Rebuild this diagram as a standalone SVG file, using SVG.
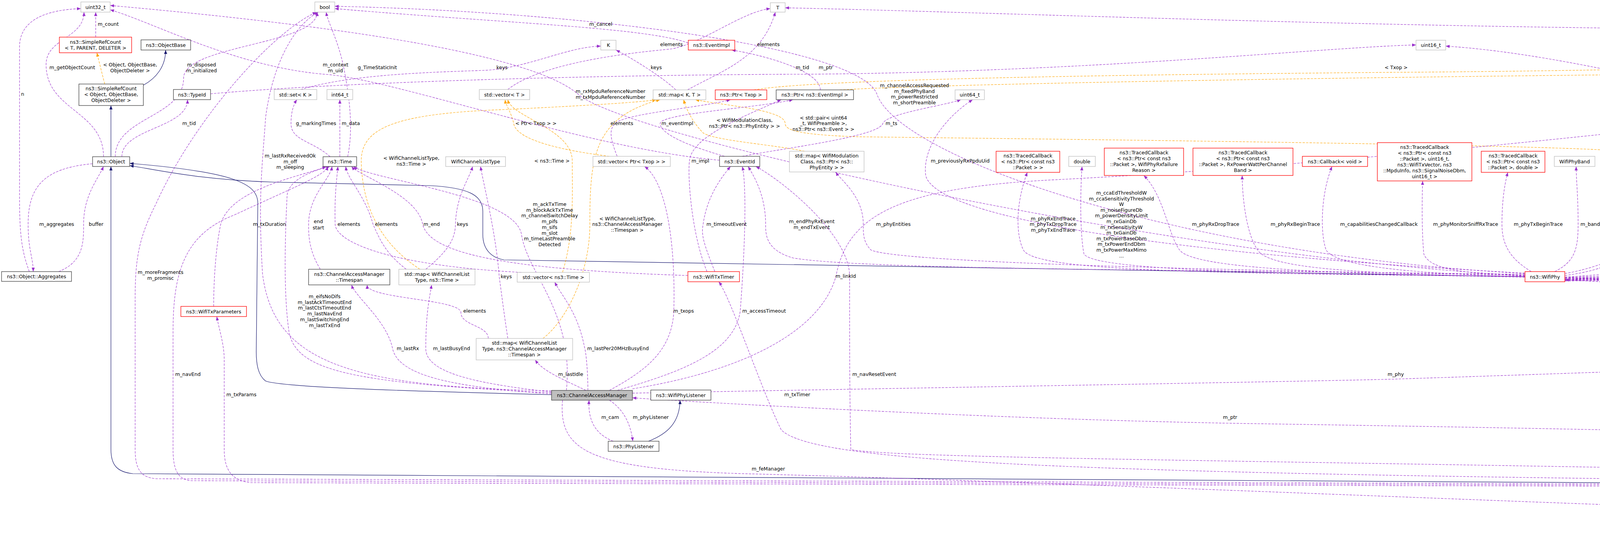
<svg xmlns="http://www.w3.org/2000/svg" width="7927" height="1369" viewBox="0 0 7927 1369">
<style>
text{font-family:"DejaVu Sans","Liberation Sans",sans-serif;font-size:12.5px;fill:#000;text-anchor:middle}
.n rect{stroke-width:1.3}
.k rect{fill:#fff;stroke:#404040}
.r rect{fill:#fff;stroke:#ff0000}
.g rect{fill:#fff;stroke:#bfbfbf}
.c rect{fill:#bfbfbf;stroke:#404040}
.ep{fill:none;stroke:#9a32cd;stroke-width:1.1;stroke-dasharray:6,3;marker-end:url(#ap)}
.eo{fill:none;stroke:#ffa500;stroke-width:1.1;stroke-dasharray:6,3;marker-end:url(#ao)}
.en{fill:none;stroke:#191970;stroke-width:1.2;marker-end:url(#an)}
</style>
<defs>
<marker id="ap" markerUnits="userSpaceOnUse" markerWidth="11" markerHeight="8" refX="10" refY="4" orient="auto"><path d="M0,0 L10,4 L0,8 z" fill="#9a32cd"/></marker>
<marker id="ao" markerUnits="userSpaceOnUse" markerWidth="11" markerHeight="8" refX="10" refY="4" orient="auto"><path d="M0,0 L10,4 L0,8 z" fill="#ffa500"/></marker>
<marker id="an" markerUnits="userSpaceOnUse" markerWidth="11" markerHeight="8" refX="10" refY="4" orient="auto"><path d="M0,0 L10,4 L0,8 z" fill="#191970"/></marker>
</defs>
<rect width="7927" height="1369" fill="#fff"/>
<g id="edges">
<path class="en" d="M284,401 L284,270"/>
<path class="en" d="M367,218 C400,200 424,170 424,128"/>
<path class="en" d="M1412,1010 C1000,1000 720,990 680,975 C660,960 656,930 656,900 L660,520 C660,470 600,440 332,418"/>
<path class="en" d="M3904,708 L1290,665 C1260,660 1236,640 1236,600 L1236,540 C1236,500 1200,480 1100,475 L700,466 C500,460 380,430 332,424"/>
<path class="en" d="M6029,1247 L340,1212 C300,1208 284,1190 284,1150 L284,426"/>
<path class="en" d="M1660,1129 C1710,1110 1740,1080 1741,1024"/>
<path class="eo" d="M268,215 L248,135"/>
<path class="eo" d="M1560,400 C1400,380 1320,350 1315,316 C1310,290 1295,270 1293,255"/>
<path class="eo" d="M1440,697 C1470,600 1465,500 1465,412 C1465,330 1310,300 1300,255"/>
<path class="eo" d="M1075,689 C1000,640 930,560 925,420 C920,330 1000,290 1300,280 C1500,270 1640,262 1680,255"/>
<path class="eo" d="M1390,866 C1450,820 1510,700 1510,574 C1510,400 1520,300 1690,255"/>
<path class="eo" d="M2060,387 C1980,370 1830,360 1800,340 C1780,320 1760,290 1750,255"/>
<path class="eo" d="M4150,387 C4000,370 2600,355 2200,350 C2030,345 2010,330 2010,316 C2010,280 1850,270 1780,255"/>
<path class="eo" d="M1930,230 C2100,200 3000,190 3574,185 C4500,180 6000,130 6561,120"/>
<path class="eo" d="M2150,230 C2500,210 4000,190 4881,185 C5600,180 6300,135 6561,121"/>
<path class="eo" d="M4790,230 C4900,200 5100,188 5275,186 C5800,180 6300,137 6561,122"/>
<path class="eo" d="M5340,304 C5360,240 5420,190 5508,186 C5900,170 6300,137 6561,123"/>
<path class="eo" d="M5570,304 C5570,240 5620,190 5694,186 C6000,170 6350,138 6561,124"/>
<path class="eo" d="M5800,297 C5780,240 5800,195 5882,193 C6100,185 6400,140 6561,125"/>
<path class="eo" d="M6040,297 C6030,240 6050,190 6089,188 C6300,180 6450,140 6561,126"/>
<path class="eo" d="M6250,297 C6220,240 6230,190 6295,188 C6400,185 6500,140 6580,128"/>
<path class="eo" d="M6440,297 C6410,240 6430,190 6504,188 C6540,185 6590,150 6600,128"/>
<path class="eo" d="M5800,880 C6000,700 6400,500 6460,480 C6520,460 6600,300 6610,128"/>
<path class="eo" d="M5830,1122 C6000,1000 6250,800 6258,707 C6265,600 6450,500 6580,470 C6615,460 6620,300 6615,128"/>
<path class="eo" d="M6400,1057 C6480,1020 6500,950 6500,700 C6500,600 6500,520 6560,490 C6620,470 6630,300 6625,128"/>
<path class="eo" d="M6710,563 C6730,450 6740,300 6720,250 C6700,200 6650,150 6640,128"/>
<path class="eo" d="M6720,784 C6795,700 6795,600 6795,316 C6795,250 6720,180 6660,128"/>
<path class="eo" d="M6800,947 C6850,850 6830,700 6835,600 C6840,450 6880,420 6880,380 C6880,300 6800,200 6670,128"/>
<path class="eo" d="M6900,1049 C6915,900 6915,700 6905,600 C6880,500 6920,470 7000,470 C7080,470 7080,400 7050,330 C7000,220 6800,150 6670,125"/>
<path class="eo" d="M7223,563 C7225,450 7200,320 7130,250 C7050,180 6900,135 6670,120"/>
<path class="eo" d="M7265,784 C7320,700 7330,650 7330,590 L7330,240 C7330,200 7300,185 7200,165 C7000,130 6800,120 6670,118"/>
<path class="eo" d="M7525,947 C7505,900 7505,850 7505,780 L7505,240 C7505,210 7450,190 7300,165 C7000,125 6800,117 6670,116"/>
<path class="eo" d="M6247,1343 C7000,1330 7600,1280 7680,1255 C7693,1240 7693,1200 7693,1100 L7693,240 C7693,200 7600,180 7300,160 C7000,135 6800,120 6670,114"/>
<path class="ep" d="M265,401 C265,283 118,283 118,165 C118,98 215,98 215,31"/>
<path class="ep" d="M295,401 C295,300 470,300 470,200 C470,115 812,115 812,31"/>
<path class="ep" d="M312,401 C312,328 480,328 480,255"/>
<path class="ep" d="M237,419 C110,430 72,480 72,574 C72,640 85,660 85,695"/>
<path class="ep" d="M150,695 C214,670 214,620 214,574 C214,500 250,460 265,426"/>
<path class="ep" d="M75,695 C55,640 50,600 50,500 L50,120 C50,50 120,25 207,22"/>
<path class="ep" d="M245,95 L245,31"/>
<path class="ep" d="M1412,1000 C900,990 700,930 672,700 C660,500 672,420 680,300 C700,150 760,60 815,31"/>
<path class="ep" d="M890,401 C905,330 895,250 880,173 C865,100 840,60 835,31"/>
<path class="ep" d="M1842,410 C1500,380 1000,200 830,190 C600,170 400,60 282,25"/>
<path class="ep" d="M1762,110 C1650,70 1300,60 857,22"/>
<path class="ep" d="M3904,700 C3000,650 2300,400 2245,241 C2200,120 1500,30 857,16"/>
<path class="ep" d="M3904,705 C3000,660 1600,350 1480,241 C1350,130 800,60 282,14"/>
<path class="ep" d="M770,229 C900,190 1100,185 1240,180 C1350,175 1450,120 1538,118"/>
<path class="ep" d="M1730,230 C1700,200 1620,150 1577,128"/>
<path class="ep" d="M1300,229 C1400,150 1680,130 1720,125 C1800,110 1900,30 1972,22"/>
<path class="ep" d="M1760,230 C1850,180 1950,150 1985,31"/>
<path class="ep" d="M845,401 C800,360 745,360 745,316 C745,290 750,270 760,255"/>
<path class="ep" d="M870,401 L870,255"/>
<path class="ep" d="M820,689 C790,640 790,600 790,575 C790,500 845,460 850,426"/>
<path class="ep" d="M1335,697 C1000,680 860,620 858,574 C856,500 862,460 865,426"/>
<path class="ep" d="M1040,689 C990,650 975,620 955,574 C935,500 890,460 885,426"/>
<path class="ep" d="M1090,689 C1150,640 1165,610 1166,574 C1168,500 1200,460 1210,426"/>
<path class="ep" d="M1761,705 C1300,690 1100,650 1082,574 C1070,500 920,450 900,426"/>
<path class="ep" d="M1450,999 C1470,800 1350,700 1335,600 C1320,500 950,460 905,426"/>
<path class="ep" d="M1300,866 C1290,800 1285,760 1278,708 C1270,600 1240,480 1230,426"/>
<path class="ep" d="M1250,866 C1250,833 1180,833 1180,800 C1180,765 940,765 940,729"/>
<path class="ep" d="M1412,1005 C900,980 760,950 740,850 C725,750 730,600 735,500 C740,450 830,430 845,426"/>
<path class="ep" d="M1412,1008 C1150,990 1020,960 1005,892 C990,820 910,760 900,729"/>
<path class="ep" d="M1412,1003 C1200,980 1090,950 1090,892 C1090,800 1100,760 1105,729"/>
<path class="ep" d="M1500,999 C1440,970 1390,950 1370,921"/>
<path class="ep" d="M1505,999 C1505,950 1500,900 1497,892 C1480,800 1440,760 1420,722"/>
<path class="ep" d="M1560,999 C1650,950 1720,900 1725,796 C1730,600 1700,460 1650,426"/>
<path class="ep" d="M1580,999 C1750,950 1880,900 1895,796 C1910,600 1910,460 1900,426"/>
<path class="ep" d="M1619,995 C1900,950 2100,850 2140,707 C2170,550 2300,480 2700,460 C3500,420 4500,300 4900,255"/>
<path class="ep" d="M6029,1240 C4000,1180 2300,1180 2178,1150 C2175,1000 2175,900 2175,707 C2175,600 2000,460 1935,426"/>
<path class="ep" d="M6029,1243 C3000,1220 2100,1200 2000,1100 C1950,1000 1870,760 1840,721"/>
<path class="ep" d="M1570,1129 C1520,1110 1505,1070 1508,1024"/>
<path class="ep" d="M1560,1024 C1600,1050 1615,1090 1620,1129"/>
<path class="ep" d="M1440,1024 C1430,1150 1500,1200 1900,1212 C3000,1240 5000,1340 6026,1343"/>
<path class="ep" d="M6136,1323 L6136,1259"/>
<path class="ep" d="M6029,1252 C5900,1245 5780,1230 5770,1200 C5765,1180 5770,1170 5771,1162"/>
<path class="ep" d="M5664,1142 C4500,1100 3200,1085 3100,1082 C2500,1070 1800,1030 1619,1018"/>
<path class="ep" d="M1619,1006 C2500,990 3400,975 3573,970 C4500,940 5500,900 5710,895"/>
<path class="ep" d="M5710,888 C5500,850 5300,815 5250,810 C4800,780 4300,730 4006,716"/>
<path class="ep" d="M6100,1234 C6000,1150 5900,1050 5815,906"/>
<path class="ep" d="M6035,1234 C5700,1200 5585,1180 5585,958 C5585,700 5500,560 5340,426"/>
<path class="ep" d="M6244,1240 C6500,1200 6557,1150 6557,958 C6557,750 6600,650 6680,589"/>
<path class="ep" d="M6244,1243 C6550,1220 6620,1150 6625,1010 C6630,900 6680,850 6700,810"/>
<path class="ep" d="M6244,1245 C6600,1230 6660,1160 6655,1068 C6655,1010 6700,985 6750,972"/>
<path class="ep" d="M6150,1234 C6200,1180 6270,1110 6320,1083"/>
<path class="ep" d="M6244,1247 C6700,1230 6800,1150 6860,1090"/>
<path class="ep" d="M6244,1249 C6900,1240 7008,1200 7008,958 L7008,800 C7050,760 7150,640 7205,589"/>
<path class="ep" d="M6244,1251 C6900,1245 7010,1230 7030,1200 C7080,1100 7150,900 7240,810"/>
<path class="ep" d="M6244,1253 C6800,1250 7100,1230 7160,1162"/>
<path class="ep" d="M6244,1255 C6900,1252 7300,1240 7355,1170"/>
<path class="ep" d="M6244,1257 C7000,1255 7450,1245 7490,1210 C7540,1150 7540,1050 7535,972"/>
<path class="ep" d="M6135,1234 C6135,1000 6090,900 6090,796 C6090,650 5900,600 5700,560 C5000,420 4200,150 3701,118"/>
<path class="ep" d="M6038,1234 C6038,1100 6038,1000 6040,892 C6040,700 5800,560 5600,540 C5300,520 5100,300 4953,260"/>
<path class="ep" d="M6029,1245 L400,1225 C360,1222 346,1200 346,1150 L346,760 C346,650 360,600 400,520 C500,300 700,80 810,31"/>
<path class="ep" d="M6029,1247 L490,1230 C460,1228 443,1210 443,1150 L443,850 C443,700 470,600 600,550 C750,480 830,450 840,426"/>
<path class="ep" d="M6029,1249 L640,1235 C600,1230 574,1210 574,1150 L574,920 C574,880 560,840 555,810"/>
<path class="ep" d="M547,784 C547,700 555,620 565,574 C590,480 780,450 835,426"/>
<path class="ep" d="M539,240 C1000,200 1800,190 2054,190 C2800,185 3400,120 3625,115"/>
<path class="ep" d="M2100,230 C2100,180 1950,140 1873,128"/>
<path class="ep" d="M6561,110 C6000,95 5000,75 4465,75 C3500,70 2500,30 2010,20"/>
<path class="ep" d="M1855,400 C1750,370 1690,340 1690,316 C1690,290 1950,275 2030,255"/>
<path class="ep" d="M1810,695 C1770,600 1760,450 1765,412 C1770,350 1900,300 2000,255"/>
<path class="ep" d="M1830,695 C1800,620 1795,600 1800,574 C1810,500 1850,450 1870,426"/>
<path class="ep" d="M3904,702 C3000,690 2200,690 2030,660 C1960,640 1960,600 1960,574 C1960,500 1930,450 1915,426"/>
<path class="ep" d="M3904,704 C3000,690 2300,670 2230,640 C2210,620 2210,600 2210,574 C2210,500 2150,460 2140,440"/>
<path class="ep" d="M1900,400 C2000,380 2250,350 2260,316 C2270,290 2420,270 2460,255"/>
<path class="ep" d="M3904,699 C3000,650 2400,560 2370,450 C2360,380 2420,300 2490,255"/>
<path class="ep" d="M3904,707 C3000,700 2650,690 2620,640 C2600,600 2600,520 2630,441"/>
<path class="ep" d="M3904,708 C3200,700 2800,690 2775,650 C2765,600 2765,500 2770,426"/>
<path class="ep" d="M3904,709 C3300,700 3050,680 3020,640 C2990,600 2980,500 2928,449"/>
<path class="ep" d="M3904,709 C3500,700 3250,690 3220,640 C3190,600 3180,500 3180,449"/>
<path class="ep" d="M3904,708 C3600,700 3420,680 3395,640 C3380,600 3380,500 3410,426"/>
<path class="ep" d="M3904,706 C3750,700 3660,690 3645,650 C3640,600 3640,520 3642,463"/>
<path class="ep" d="M3920,695 C3880,670 3845,640 3845,574 C3845,500 3855,460 3860,441"/>
<path class="ep" d="M3980,695 C4030,670 4040,640 4040,574 C4040,500 4035,460 4035,426"/>
<path class="ep" d="M4006,705 C4120,690 4160,660 4165,620 C4170,560 4190,480 4200,440"/>
<path class="ep" d="M4006,709 C4300,690 4350,660 4355,600 C4360,450 4360,350 4400,300 C4500,270 4800,260 4885,258"/>
<path class="ep" d="M4006,710 C4300,700 4450,670 4500,600 C4550,520 4600,460 4630,426"/>
<path class="ep" d="M4006,711 C4500,700 4750,690 4770,650 C4780,600 4780,500 4815,426"/>
<path class="ep" d="M4006,712 C4600,705 4880,690 4890,650 C4895,600 4890,500 4940,441"/>
<path class="ep" d="M4006,713 C4800,705 5080,690 5080,600 C5080,450 5000,350 4800,340 C4740,335 4725,290 4720,255"/>
<path class="ep" d="M4006,714 C4900,705 5300,690 5390,600 C5420,520 5410,450 5400,412 C5390,370 5385,350 5370,330"/>
<path class="ep" d="M4006,715 C5000,700 5420,650 5500,550 C5530,470 5550,400 5570,330"/>
<path class="ep" d="M4006,716 C5000,700 5700,560 5800,337"/>
<path class="ep" d="M4006,717 C5100,700 5900,600 6000,450 C6020,410 6025,380 6030,337"/>
<path class="ep" d="M4006,718 C5200,700 6050,560 6100,480 C6130,420 6150,370 6180,337"/>
<path class="ep" d="M4006,719 C5300,710 6200,500 6300,470 C6340,440 6360,380 6380,337"/>
<path class="ep" d="M4680,400 C4800,350 4900,320 4910,255"/>
<path class="ep" d="M4006,700 C4300,650 4500,360 4760,330 C4850,320 4880,280 4895,255"/>
<path class="ep" d="M5300,400 C5200,360 5130,340 5080,330 C5000,310 4970,280 4953,258"/>
<path class="ep" d="M4230,387 C4260,320 4450,260 4635,245"/>
<path class="ep" d="M1580,400 C1560,350 1560,330 1575,316 C1600,290 1800,275 1870,255"/>
</g>
<g id="labels">
<text x="185" y="177">m_getObjectCount</text>
<text x="277" y="66">m_count</text>
<text x="333" y="170">&lt; Object, ObjectBase,</text>
<text x="333" y="185">ObjectDeleter &gt;</text>
<text x="516" y="170">m_disposed</text>
<text x="516" y="185">m_initialized</text>
<text x="58" y="245">n</text>
<text x="484" y="320">m_tid</text>
<text x="145" y="578">m_aggregates</text>
<text x="246" y="578">buffer</text>
<text x="690" y="578">m_txDuration</text>
<text x="743" y="403">m_lastRxReceivedOk</text>
<text x="743" y="418">m_off</text>
<text x="743" y="432">m_sleeping</text>
<text x="411" y="701">m_moreFragments</text>
<text x="411" y="716">m_promisc</text>
<text x="481" y="962">m_navEnd</text>
<text x="618" y="1014">m_txParams</text>
<text x="859" y="170">m_context</text>
<text x="859" y="185">m_uid</text>
<text x="966" y="177">g_TimeStaticInit</text>
<text x="1285" y="177">keys</text>
<text x="1563" y="238">m_rxMpduReferenceNumber</text>
<text x="1563" y="253">m_txMpduReferenceNumber</text>
<text x="809" y="320">g_markingTimes</text>
<text x="898" y="320">m_data</text>
<text x="1372" y="320">&lt; Ptr&lt; Txop &gt; &gt;</text>
<text x="1053" y="409">&lt; WifiChannelListType,</text>
<text x="1053" y="424">ns3::Time &gt;</text>
<text x="1413" y="416">&lt; ns3::Time &gt;</text>
<text x="815" y="571">end</text>
<text x="815" y="587">start</text>
<text x="893" y="578">elements</text>
<text x="989" y="578">elements</text>
<text x="1105" y="578">m_end</text>
<text x="1184" y="578">keys</text>
<text x="1407" y="527">m_ackTxTime<tspan x="1407" dy="14.7">m_blockAckTxTime</tspan><tspan x="1407" dy="14.7">m_channelSwitchDelay</tspan><tspan x="1407" dy="14.7">m_pifs</tspan><tspan x="1407" dy="14.7">m_sifs</tspan><tspan x="1407" dy="14.7">m_slot</tspan><tspan x="1407" dy="14.7">m_timeLastPreamble</tspan><tspan x="1407" dy="14.7">Detected</tspan></text>
<text x="1296" y="712">keys</text>
<text x="831" y="763">m_eifsNoDifs<tspan x="831" dy="14.7">m_lastAckTimeoutEnd</tspan><tspan x="831" dy="14.7">m_lastCtsTimeoutEnd</tspan><tspan x="831" dy="14.7">m_lastNavEnd</tspan><tspan x="831" dy="14.7">m_lastSwitchingEnd</tspan><tspan x="831" dy="14.7">m_lastTxEnd</tspan></text>
<text x="1215" y="800">elements</text>
<text x="1044" y="896">m_lastRx</text>
<text x="1156" y="896">m_lastBusyEnd</text>
<text x="1461" y="962">m_lastIdle</text>
<text x="1538" y="66">m_cancel</text>
<text x="1719" y="118">elements</text>
<text x="1967" y="118">elements</text>
<text x="1680" y="177">keys</text>
<text x="2054" y="177">m_tid</text>
<text x="2114" y="177">m_ptr</text>
<text x="2341" y="223">m_channelAccessRequested<tspan x="2341" dy="14.6">m_fixedPhyBand</tspan><tspan x="2341" dy="14.6">m_powerRestricted</tspan><tspan x="2341" dy="14.6">m_shortPreamble</tspan></text>
<text x="1592" y="320">elements</text>
<text x="1734" y="320">m_eventImpl</text>
<text x="1906" y="312">&lt; WifiModulationClass,</text>
<text x="1906" y="327">ns3::Ptr&lt; ns3::PhyEntity &gt; &gt;</text>
<text x="2108" y="306">&lt; std::pair&lt; uint64</text>
<text x="2108" y="320">_t, WifiPreamble &gt;,</text>
<text x="2108" y="335">ns3::Ptr&lt; ns3::Event &gt; &gt;</text>
<text x="2282" y="320">m_ts</text>
<text x="1793" y="416">m_impl</text>
<text x="2458" y="416">m_previouslyRxPpduUid</text>
<text x="1606" y="564">&lt; WifiChannelListType,</text>
<text x="1606" y="578">ns3::ChannelAccessManager</text>
<text x="1606" y="593">::Timespan &gt;</text>
<text x="1860" y="578">m_timeoutEvent</text>
<text x="2078" y="571">m_endPhyRxEvent</text>
<text x="2078" y="586">m_endTxEvent</text>
<text x="2287" y="578">m_phyEntities</text>
<text x="2165" y="711">m_linkId</text>
<text x="1750" y="800">m_txops</text>
<text x="1956" y="800">m_accessTimeout</text>
<text x="1582" y="896">m_lastPer20MHzBusyEnd</text>
<text x="2238" y="962">m_navResetEvent</text>
<text x="2041" y="1014">m_txTimer</text>
<text x="1562" y="1072">m_cam</text>
<text x="1666" y="1072">m_phyListener</text>
<text x="1967" y="1204">m_feManager</text>
<text x="2696" y="564">m_phyRxEndTrace</text>
<text x="2696" y="578">m_phyTxDropTrace</text>
<text x="2696" y="593">m_phyTxEndTrace</text>
<text x="2871" y="498">m_ccaEdThresholdW<tspan x="2871" dy="14.6">m_ccaSensitivityThreshold</tspan><tspan x="2871" dy="14.6">W</tspan><tspan x="2871" dy="14.6">m_noiseFigureDb</tspan><tspan x="2871" dy="14.6">m_powerDensityLimit</tspan><tspan x="2871" dy="14.6">m_rxGainDb</tspan><tspan x="2871" dy="14.6">m_rxSensitivityW</tspan><tspan x="2871" dy="14.6">m_txGainDb</tspan><tspan x="2871" dy="14.6">m_txPowerBaseDbm</tspan><tspan x="2871" dy="14.6">m_txPowerEndDbm</tspan><tspan x="2871" dy="14.6">m_txPowerMaxMimo</tspan><tspan x="2871" dy="14.6">...</tspan></text>
<text x="3112" y="578">m_phyRxDropTrace</text>
<text x="3316" y="578">m_phyRxBeginTrace</text>
<text x="3149" y="1072">m_ptr</text>
<text x="3574" y="177">&lt; Txop &gt;</text>
<text x="3530" y="578">m_capabilitiesChangedCallback</text>
<text x="3752" y="578">m_phyMonitorSniffRxTrace</text>
<text x="3938" y="578">m_phyTxBeginTrace</text>
<text x="4071" y="578">m_band</text>
<text x="4256" y="578">m_currentPreambleEvents</text>
<text x="3573" y="962">m_phy</text>
<text x="4465" y="66">m_ptr</text>
<text x="4881" y="177">&lt; ns3::EventImpl &gt;</text>
<text x="4313" y="320">elements</text>
<text x="4823" y="320">m_allocationIndex</text>
<text x="4980" y="320">m_primary20Index</text>
<text x="5119" y="320">m_address</text>
<text x="4435" y="394">m_nTxPower</text>
<text x="4435" y="409">m_numberOfAntennas</text>
<text x="4435" y="424">m_rxSpatialStreams</text>
<text x="4435" y="438">m_txSpatialStreams</text>
<text x="4660" y="578">m_operatingChannel</text>
<text x="4833" y="578">m_standard</text>
<text x="4997" y="578">m_phyRxPayloadBeginTrace</text>
<text x="5275" y="177">&lt; ns3::Event &gt;</text>
<text x="5508" y="177">&lt; ns3::MobilityModel &gt;</text>
<text x="5694" y="177">&lt; ns3::WifiNetDevice &gt;</text>
<text x="5882" y="170">&lt; ns3::PreambleDetection</text>
<text x="5882" y="184">Model &gt;</text>
<text x="5151" y="416">m_currentEvent</text>
<text x="5458" y="416">m_mobility</text>
<text x="5590" y="416">m_device</text>
<text x="5870" y="416">m_preambleDetectionModel</text>
<text x="5280" y="800">m_ptr</text>
<text x="5617" y="955">m_bssid</text>
<text x="5617" y="970">m_self</text>
<text x="5932" y="1072">m_phy</text>
<text x="5864" y="1204">m_channelAccessManager</text>
<text x="6089" y="177">&lt; ns3::WifiPhyStateHelper &gt;</text>
<text x="6295" y="177">&lt; ns3::FrameCaptureModel &gt;</text>
<text x="6504" y="177">&lt; ns3::InterferenceHelper &gt;</text>
<text x="6798" y="245">&lt; ns3::WifiMac &gt;</text>
<text x="6869" y="320">&lt; ns3::WifiMpdu &gt;</text>
<text x="6057" y="416">m_state</text>
<text x="6222" y="416">m_frameCaptureModel</text>
<text x="6399" y="416">m_interference</text>
<text x="6557" y="416">&lt; ns3::WifiPhy &gt;</text>
<text x="6970" y="416">&lt; ns3::WifiAckManager &gt;</text>
<text x="6550" y="578">&lt; ns3::Txop &gt;</text>
<text x="7019" y="578">&lt; ns3::WifiProtectionManager &gt;</text>
<text x="6390" y="711">&lt; ns3::ChannelAccessManager &gt;</text>
<text x="6157" y="800">m_allowedWidth</text>
<text x="6070" y="896">m_linkId</text>
<text x="6585" y="962">m_mac</text>
<text x="6651" y="1014">m_mpdu</text>
<text x="6717" y="1072">m_ackManager</text>
<text x="6309" y="1145">m_dcf</text>
<text x="6911" y="1145">m_protectionManager</text>
<text x="6160" y="1294">m_ptr</text>
<text x="7228" y="245">&lt; ns3::Packet &gt;</text>
<text x="7409" y="320">&lt; ns3::MacRxMiddle &gt;</text>
<text x="7583" y="416">&lt; ns3::MacTxMiddle &gt;</text>
<text x="7082" y="962">m_fragmentedPacket</text>
<text x="7185" y="1014">m_rxMiddle</text>
<text x="7587" y="1072">m_txMiddle</text>
<text x="7193" y="1204">m_ackedMpduCallback</text>
<text x="7401" y="1204">m_droppedMpduCallback</text>
<text x="7810" y="896">&lt; ns3::FrameExchangeManager &gt;</text>
</g>
<g id="uint32" class="n g"><rect x="207" y="5" width="75" height="26"/><text x="244.5" y="22.5">uint32_t</text></g>
<g id="srcT" class="n r"><rect x="152" y="95" width="185" height="40"/><text x="244.5" y="112">ns3::SimpleRefCount</text><text x="244.5" y="127">&lt; T, PARENT, DELETER &gt;</text></g>
<g id="objectbase" class="n k"><rect x="361" y="102" width="127" height="26"/><text x="424.5" y="119.5">ns3::ObjectBase</text></g>
<g id="srcObject" class="n k"><rect x="202" y="215" width="165" height="55"/><text x="284.5" y="231">ns3::SimpleRefCount</text><text x="284.5" y="246">&lt; Object, ObjectBase,</text><text x="284.5" y="261">ObjectDeleter &gt;</text></g>
<g id="typeid" class="n k"><rect x="444" y="229" width="95" height="26"/><text x="491.5" y="246.5">ns3::TypeId</text></g>
<g id="object" class="n k"><rect x="237" y="401" width="95" height="25"/><text x="284.5" y="418">ns3::Object</text></g>
<g id="aggregates" class="n k"><rect x="4" y="695" width="179" height="25"/><text x="93.5" y="712">ns3::Object::Aggregates</text></g>
<g id="wifitxparams" class="n r"><rect x="463" y="784" width="168" height="26"/><text x="547" y="801.5">ns3::WifiTxParameters</text></g>
<g id="bool" class="n g"><rect x="806" y="5" width="51" height="26"/><text x="831.5" y="22.5">bool</text></g>
<g id="setK" class="n g"><rect x="702" y="229" width="109" height="26"/><text x="756.5" y="246.5">std::set&lt; K &gt;</text></g>
<g id="int64" class="n g"><rect x="837" y="229" width="66" height="26"/><text x="870" y="246.5">int64_t</text></g>
<g id="vectorT" class="n g"><rect x="1227" y="229" width="129" height="26"/><text x="1291.5" y="246.5">std::vector&lt; T &gt;</text></g>
<g id="time" class="n k"><rect x="827" y="401" width="86" height="25"/><text x="870" y="418">ns3::Time</text></g>
<g id="wclt" class="n g"><rect x="1141" y="401" width="153" height="25"/><text x="1217.5" y="418">WifiChannelListType</text></g>
<g id="timespan" class="n k"><rect x="790" y="689" width="208" height="40"/><text x="894" y="706">ns3::ChannelAccessManager</text><text x="894" y="721">::Timespan</text></g>
<g id="mapWcltTime" class="n g"><rect x="1021" y="689" width="195" height="40"/><text x="1118.5" y="706">std::map&lt; WifiChannelList</text><text x="1118.5" y="721">Type, ns3::Time &gt;</text></g>
<g id="vectorTime" class="n g"><rect x="1324" y="697" width="185" height="25"/><text x="1416.5" y="714">std::vector&lt; ns3::Time &gt;</text></g>
<g id="mapWcltTimespan" class="n g"><rect x="1219" y="866" width="247" height="55"/><text x="1342.5" y="882">std::map&lt; WifiChannelList</text><text x="1342.5" y="897">Type, ns3::ChannelAccessManager</text><text x="1342.5" y="912">::Timespan &gt;</text></g>
<g id="cam" class="n c"><rect x="1412" y="999" width="207" height="25"/><text x="1515.5" y="1016">ns3::ChannelAccessManager</text></g>
<g id="T" class="n g"><rect x="1972" y="7" width="38" height="24"/><text x="1991" y="23.5">T</text></g>
<g id="K" class="n g"><rect x="1538" y="103" width="39" height="25"/><text x="1557.5" y="120">K</text></g>
<g id="eventimpl" class="n r"><rect x="1762" y="103" width="119" height="25"/><text x="1821.5" y="120">ns3::EventImpl</text></g>
<g id="mapKT" class="n g"><rect x="1672" y="230" width="135" height="25"/><text x="1739.5" y="247">std::map&lt; K, T &gt;</text></g>
<g id="ptrTxop1" class="n r"><rect x="1831" y="230" width="132" height="25"/><text x="1897" y="247">ns3::Ptr&lt; Txop &gt;</text></g>
<g id="ptrEventImpl" class="n k"><rect x="1987" y="230" width="198" height="25"/><text x="2086" y="247">ns3::Ptr&lt; ns3::EventImpl &gt;</text></g>
<g id="vectorPtrTxop" class="n g"><rect x="1518" y="400" width="198" height="26"/><text x="1617" y="417.5">std::vector&lt; Ptr&lt; Txop &gt; &gt;</text></g>
<g id="eventid" class="n k"><rect x="1842" y="400" width="103" height="26"/><text x="1893.5" y="417.5">ns3::EventId</text></g>
<g id="mapWmc" class="n g"><rect x="2021" y="387" width="191" height="53"/><text x="2116.5" y="403">std::map&lt; WifiModulation</text><text x="2116.5" y="418">Class, ns3::Ptr&lt; ns3::</text><text x="2116.5" y="433">PhyEntity &gt; &gt;</text></g>
<g id="wifitxtimer" class="n r"><rect x="1761" y="695" width="132" height="26"/><text x="1827" y="712.5">ns3::WifiTxTimer</text></g>
<g id="wifiphylistener" class="n k"><rect x="1666" y="998" width="154" height="26"/><text x="1743" y="1015.5">ns3::WifiPhyListener</text></g>
<g id="phylistener" class="n k"><rect x="1557" y="1129" width="130" height="26"/><text x="1622" y="1146.5">ns3::PhyListener</text></g>
<g id="uint64" class="n g"><rect x="2445" y="230" width="75" height="25"/><text x="2482.5" y="247">uint64_t</text></g>
<g id="tc1" class="n r"><rect x="2550" y="387" width="163" height="54"/><text x="2631.5" y="403">ns3::TracedCallback</text><text x="2631.5" y="418">&lt; ns3::Ptr&lt; const ns3</text><text x="2631.5" y="433">::Packet &gt; &gt;</text></g>
<g id="double" class="n g"><rect x="2736" y="400" width="68" height="26"/><text x="2770" y="417.5">double</text></g>
<g id="tc2" class="n r"><rect x="2827" y="379" width="203" height="70"/><text x="2928.5" y="395">ns3::TracedCallback</text><text x="2928.5" y="410">&lt; ns3::Ptr&lt; const ns3</text><text x="2928.5" y="425">::Packet &gt;, WifiPhyRxfailure</text><text x="2928.5" y="440">Reason &gt;</text></g>
<g id="tc3" class="n r"><rect x="3054" y="379" width="256" height="70"/><text x="3182" y="395">ns3::TracedCallback</text><text x="3182" y="410">&lt; ns3::Ptr&lt; const ns3</text><text x="3182" y="425">::Packet &gt;, RxPowerWattPerChannel</text><text x="3182" y="440">Band &gt;</text></g>
<g id="uint16" class="n g"><rect x="3625" y="103" width="76" height="25"/><text x="3663" y="120">uint16_t</text></g>
<g id="cbvoid" class="n r"><rect x="3334" y="400" width="167" height="26"/><text x="3417.5" y="417.5">ns3::Callback&lt; void &gt;</text></g>
<g id="tc4" class="n r"><rect x="3526" y="365" width="242" height="98"/><text x="3647" y="381">ns3::TracedCallback</text><text x="3647" y="396">&lt; ns3::Ptr&lt; const ns3</text><text x="3647" y="411">::Packet &gt;, uint16_t,</text><text x="3647" y="426"> ns3::WifiTxVector, ns3</text><text x="3647" y="441">::MpduInfo, ns3::SignalNoiseDbm,</text><text x="3647" y="456">uint16_t &gt;</text></g>
<g id="tc5" class="n r"><rect x="3792" y="387" width="163" height="54"/><text x="3873.5" y="403">ns3::TracedCallback</text><text x="3873.5" y="418">&lt; ns3::Ptr&lt; const ns3</text><text x="3873.5" y="433">::Packet &gt;, double &gt;</text></g>
<g id="wifiphyband" class="n g"><rect x="3979" y="400" width="104" height="26"/><text x="4031" y="417.5">WifiPhyBand</text></g>
<g id="mapPair" class="n g"><rect x="4108" y="387" width="207" height="53"/><text x="4211.5" y="403">std::map&lt; std::pair</text><text x="4211.5" y="418">&lt; uint64_t, WifiPreamble</text><text x="4211.5" y="433">&gt;, ns3::Ptr&lt; ns3::Event &gt; &gt;</text></g>
<g id="wifiphy" class="n r"><rect x="3904" y="695" width="102" height="26"/><text x="3955" y="712.5">ns3::WifiPhy</text></g>
<g id="ptrEvent" class="n r"><rect x="4635" y="230" width="169" height="25"/><text x="4719.5" y="247">ns3::Ptr&lt; ns3::Event &gt;</text></g>
<g id="uint8" class="n g"><rect x="4885" y="230" width="68" height="25"/><text x="4919" y="247">uint8_t</text></g>
<g id="wpoc" class="n r"><rect x="4534" y="400" width="218" height="26"/><text x="4643" y="417.5">ns3::WifiPhyOperatingChannel</text></g>
<g id="wifistandard" class="n g"><rect x="4777" y="400" width="106" height="26"/><text x="4830" y="417.5">WifiStandard</text></g>
<g id="tc6" class="n r"><rect x="4905" y="387" width="155" height="54"/><text x="4982.5" y="403">ns3::TracedCallback</text><text x="4982.5" y="418">&lt; ns3::WifiTxVector,</text><text x="4982.5" y="433">ns3::Time &gt;</text></g>
<g id="ptrMobility" class="n r"><rect x="5226" y="304" width="226" height="26"/><text x="5339" y="321.5">ns3::Ptr&lt; ns3::MobilityModel &gt;</text></g>
<g id="ptrNetDevice" class="n r"><rect x="5458" y="304" width="226" height="26"/><text x="5571" y="321.5">ns3::Ptr&lt; ns3::WifiNetDevice &gt;</text></g>
<g id="ptrPreamble" class="n r"><rect x="5691" y="297" width="243" height="40"/><text x="5812.5" y="314">ns3::Ptr&lt; ns3::PreambleDetection</text><text x="5812.5" y="329">Model &gt;</text></g>
<g id="ptrStateHelper" class="n r"><rect x="5940" y="297" width="200" height="40"/><text x="6040" y="314">ns3::Ptr&lt; ns3::WifiPhyState</text><text x="6040" y="329">Helper &gt;</text></g>
<g id="mac48" class="n k"><rect x="5241" y="400" width="148" height="26"/><text x="5315" y="417.5">ns3::Mac48Address</text></g>
<g id="ptrWifiPhy" class="n k"><rect x="5710" y="880" width="181" height="26"/><text x="5800.5" y="897.5">ns3::Ptr&lt; ns3::WifiPhy &gt;</text></g>
<g id="ptrCam" class="n k"><rect x="5664" y="1122" width="214" height="40"/><text x="5771" y="1139">ns3::Ptr&lt; ns3::ChannelAccess</text><text x="5771" y="1154">Manager &gt;</text></g>
<g id="ptrT" class="n k"><rect x="6561" y="103" width="109" height="25"/><text x="6615.5" y="120">ns3::Ptr&lt; T &gt;</text></g>
<g id="ptrFrameCapture" class="n r"><rect x="6148" y="297" width="209" height="40"/><text x="6252.5" y="314">ns3::Ptr&lt; ns3::FrameCapture</text><text x="6252.5" y="329">Model &gt;</text></g>
<g id="ptrInterference" class="n r"><rect x="6364" y="297" width="196" height="40"/><text x="6462" y="314">ns3::Ptr&lt; ns3::Interference</text><text x="6462" y="329">Helper &gt;</text></g>
<g id="ptrWifiMac" class="n r"><rect x="6610" y="563" width="184" height="26"/><text x="6702" y="580.5">ns3::Ptr&lt; ns3::WifiMac &gt;</text></g>
<g id="ptrWifiMpdu" class="n r"><rect x="6615" y="784" width="193" height="26"/><text x="6711.5" y="801.5">ns3::Ptr&lt; ns3::WifiMpdu &gt;</text></g>
<g id="ptrAckManager" class="n r"><rect x="6653" y="947" width="238" height="25"/><text x="6772" y="964">ns3::Ptr&lt; ns3::WifiAckManager &gt;</text></g>
<g id="ptrTxop2" class="n r"><rect x="6254" y="1057" width="162" height="26"/><text x="6335" y="1074.5">ns3::Ptr&lt; ns3::Txop &gt;</text></g>
<g id="ptrProtection" class="n r"><rect x="6781" y="1049" width="207" height="41"/><text x="6884.5" y="1066">ns3::Ptr&lt; ns3::WifiProtection</text><text x="6884.5" y="1081">Manager &gt;</text></g>
<g id="fem" class="n k"><rect x="6029" y="1234" width="215" height="25"/><text x="6136.5" y="1251">ns3::FrameExchangeManager</text></g>
<g id="ptrFem" class="n k"><rect x="6026" y="1323" width="221" height="39"/><text x="6136.5" y="1339">ns3::Ptr&lt; ns3::FrameExchange</text><text x="6136.5" y="1354">Manager &gt;</text></g>
<g id="ptrPacket" class="n r"><rect x="7136" y="563" width="174" height="26"/><text x="7223" y="580.5">ns3::Ptr&lt; ns3::Packet &gt;</text></g>
<g id="ptrRxMiddle" class="n r"><rect x="7141" y="784" width="220" height="26"/><text x="7251" y="801.5">ns3::Ptr&lt; ns3::MacRxMiddle &gt;</text></g>
<g id="ptrTxMiddle" class="n r"><rect x="7419" y="947" width="218" height="25"/><text x="7528" y="964">ns3::Ptr&lt; ns3::MacTxMiddle &gt;</text></g>
<g id="cbAcked" class="n r"><rect x="7096" y="1122" width="189" height="40"/><text x="7190.5" y="1139">ns3::Callback&lt; void,</text><text x="7190.5" y="1154">Ptr&lt; const WifiMpdu &gt; &gt;</text></g>
<g id="cbDropped" class="n r"><rect x="7310" y="1115" width="189" height="55"/><text x="7404.5" y="1131">ns3::Callback&lt; void,</text><text x="7404.5" y="1146">WifiMacDropReason,</text><text x="7404.5" y="1161">Ptr&lt; const WifiMpdu &gt; &gt;</text></g>
</svg>
